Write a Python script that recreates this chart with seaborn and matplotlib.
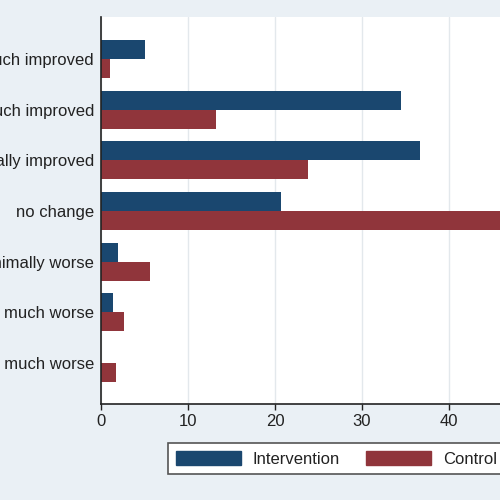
import pandas as pd
import seaborn as sns
import matplotlib.pyplot as plt

# Responses (percent) by group
categories = ["very much improved", "much improved", "minimally improved", "no change",
              "minimally worse", "much worse", "very much worse"]
intervention = [5.0, 34.5, 36.7, 20.7, 1.9, 1.4, 0.0]
control = [1.0, 13.2, 23.8, 52.0, 5.6, 2.6, 1.7]
groups = ["Intervention", "Control"]
x_ticks = [0, 10, 20, 30, 40]

bg = "#eaf0f5"
colors = {"Intervention": "#1a476f", "Control": "#90353b"}

df = pd.DataFrame({
    "category": categories * 2,
    "group": [groups[0]] * len(categories) + [groups[1]] * len(categories),
    "percent": intervention + control,
})

sns.set_theme(style="white")
plt.rcParams["font.family"] = ["Liberation Sans", "DejaVu Sans"]

fig = plt.figure(figsize=(5, 5), dpi=100, facecolor=bg)
# the axes runs past the right edge, as in the cropped reference
ax = fig.add_axes([101 / 500, 96 / 500, 0.87, 387 / 500])

sns.barplot(data=df, y="category", x="percent", hue="group", order=categories,
            hue_order=groups, palette=colors, orient="h", width=0.75,
            edgecolor="none", linewidth=0, saturation=1, ax=ax)

ax.set_xlim(0, 50)
ax.set_ylim(6.81, -0.83)
ax.set_xticks(x_ticks)
ax.set_xlabel("")
ax.set_ylabel("")
ax.set_facecolor("white")

ax.grid(axis="x", color="#e3e8ec", linewidth=1)
ax.set_axisbelow(True)
for side in ["top", "right"]:
    ax.spines[side].set_visible(False)
for side in ["left", "bottom"]:
    ax.spines[side].set_color("#222222")
    ax.spines[side].set_linewidth(1.2)

ax.tick_params(axis="x", which="both", bottom=True, length=4, width=1,
               color="#222222", labelsize=12, labelcolor="#222222", pad=3)
ax.tick_params(axis="y", length=0, labelsize=12, labelcolor="#222222", pad=5)

ax.get_legend().remove()
handles = [plt.Rectangle((0, 0), 1, 1, color=colors[g]) for g in groups]
leg = fig.legend(handles, groups, loc="upper left", bbox_to_anchor=(168 / 500, 1 - 443 / 500),
                 borderaxespad=0, ncol=2, fontsize=12, handlelength=3.9, handleheight=1.0,
                 handletextpad=0.7, columnspacing=1.6, borderpad=0.45,
                 frameon=True, fancybox=False, framealpha=1, facecolor="white",
                 edgecolor="#555555", labelcolor="#222222")
leg.get_frame().set_linewidth(1.2)

fig.savefig("out.png", dpi=100, facecolor=bg)
